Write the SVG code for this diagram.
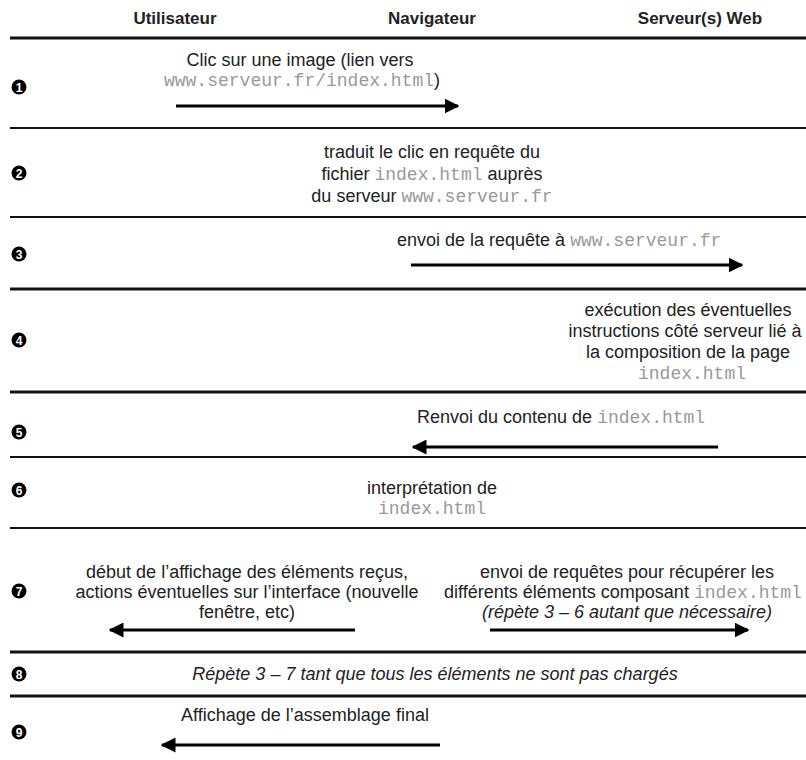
<svg xmlns="http://www.w3.org/2000/svg" width="806" height="760" viewBox="0 0 806 760">
  <style>
    .hd { font-family: "Liberation Sans", Arial, sans-serif; font-size: 17px; font-weight: bold; fill: #222; text-anchor: middle; }
    .tx { font-family: "Liberation Sans", Arial, sans-serif; font-size: 18px; fill: #222; }
    .it { font-style: italic; }
    .mono { font-family: "Liberation Mono", "Courier New", monospace; font-size: 18px; fill: #999; }
    .badge circle { fill: #000; }
    .badge text { font-family: "Liberation Sans", Arial, sans-serif; font-size: 12px; font-weight: bold; fill: #fff; text-anchor: middle; }
    .sep { stroke: #111; stroke-width: 2; }
    .sep.thick { stroke-width: 3; }
    .arrow { stroke: #000; stroke-width: 3; fill: none; marker-end: url(#head); }
    .c { text-anchor: middle; }
  </style>
  <defs>
    <marker id="head" viewBox="0 0 10 10" refX="9" refY="5" markerWidth="5" markerHeight="5" orient="auto" markerUnits="strokeWidth">
      <path d="M0,0 L10,5 L0,10 Z" fill="#000"/>
    </marker>
  </defs>
  <rect width="806" height="760" fill="#fff"/>

  <!-- column headers -->
  <g id="headers">
    <text class="hd" x="175" y="24">Utilisateur</text>
    <text class="hd" x="432" y="24">Navigateur</text>
    <text class="hd" x="700" y="24">Serveur(s) Web</text>
  </g>

  <!-- row separators -->
  <g id="separators">
    <line class="sep thick" x1="10" y1="38" x2="806" y2="38"/>
    <line class="sep" x1="10" y1="128" x2="806" y2="128"/>
    <line class="sep" x1="10" y1="217" x2="806" y2="217"/>
    <line class="sep thick" x1="10" y1="289" x2="806" y2="289"/>
    <line class="sep thick" x1="10" y1="392" x2="806" y2="392"/>
    <line class="sep" x1="10" y1="457" x2="806" y2="457"/>
    <line class="sep" x1="10" y1="528" x2="806" y2="528"/>
    <line class="sep thick" x1="10" y1="652" x2="806" y2="652"/>
    <line class="sep thick" x1="10" y1="696" x2="806" y2="696"/>
  </g>

  <!-- step numbers -->
  <g id="step-numbers">
    <g class="badge"><circle cx="19" cy="87" r="7.5"/><text x="19" y="91.5">1</text></g>
    <g class="badge"><circle cx="19" cy="173" r="7.5"/><text x="19" y="177.5">2</text></g>
    <g class="badge"><circle cx="19" cy="254" r="7.5"/><text x="19" y="258.5">3</text></g>
    <g class="badge"><circle cx="19" cy="340" r="7.5"/><text x="19" y="344.5">4</text></g>
    <g class="badge"><circle cx="19" cy="432" r="7.5"/><text x="19" y="436.5">5</text></g>
    <g class="badge"><circle cx="19" cy="490" r="7.5"/><text x="19" y="494.5">6</text></g>
    <g class="badge"><circle cx="19" cy="591" r="7.5"/><text x="19" y="595.5">7</text></g>
    <g class="badge"><circle cx="19" cy="674" r="7.5"/><text x="19" y="678.5">8</text></g>
    <g class="badge"><circle cx="19" cy="732" r="7.5"/><text x="19" y="736.5">9</text></g>
  </g>

  <g id="step1">
    <text class="tx c" x="300" y="66">Clic sur une image (lien vers</text>
    <text class="tx c" x="302" y="86"><tspan class="mono">www.serveur.fr/index.html</tspan>)</text>
  </g>

  <g id="step2">
    <text class="tx c" x="432" y="158">traduit le clic en requête du</text>
    <text class="tx c" x="432" y="180">fichier <tspan class="mono">index.html</tspan> auprès</text>
    <text class="tx c" x="432" y="202">du serveur <tspan class="mono">www.serveur.fr</tspan></text>
  </g>

  <g id="step3">
    <text class="tx" x="397" y="246">envoi de la requête à <tspan class="mono">www.serveur.fr</tspan></text>
  </g>

  <g id="step4">
    <text class="tx c" x="688" y="316">exécution des éventuelles</text>
    <text class="tx c" x="685" y="337">instructions côté serveur lié à</text>
    <text class="tx c" x="688" y="358">la composition de la page</text>
    <text class="mono c" x="692" y="379">index.html</text>
  </g>

  <g id="step5">
    <text class="tx" x="417" y="423">Renvoi du contenu de <tspan class="mono">index.html</tspan></text>
  </g>

  <g id="step6">
    <text class="tx c" x="432" y="494">interprétation de</text>
    <text class="mono c" x="432" y="514">index.html</text>
  </g>

  <g id="step7-user">
    <text class="tx c" x="247" y="578">début de l’affichage des éléments reçus,</text>
    <text class="tx c" x="247" y="598">actions éventuelles sur l’interface (nouvelle</text>
    <text class="tx c" x="247" y="618">fenêtre, etc)</text>
  </g>

  <g id="step7-server">
    <text class="tx c" x="627" y="578">envoi de requêtes pour récupérer les</text>
    <text class="tx c" x="623" y="598">différents éléments composant <tspan class="mono">index.html</tspan></text>
    <text class="tx c it" x="627" y="618">(répète 3 – 6 autant que nécessaire)</text>
  </g>

  <g id="step8">
    <text class="tx c it" x="435" y="680">Répète 3 – 7 tant que tous les éléments ne sont pas chargés</text>
  </g>

  <g id="step9">
    <text class="tx c" x="305" y="721">Affichage de l’assemblage final</text>
  </g>

  <!-- message arrows -->
  <g id="connectors">
    <line class="arrow" x1="176" y1="106" x2="458" y2="106"/>
    <line class="arrow" x1="411" y1="265" x2="742" y2="265"/>
    <line class="arrow" x1="718" y1="447" x2="413" y2="447"/>
    <line class="arrow" x1="355" y1="630" x2="110" y2="630"/>
    <line class="arrow" x1="490" y1="630" x2="748" y2="630"/>
    <line class="arrow" x1="440" y1="745" x2="162" y2="745"/>
  </g>
</svg>
